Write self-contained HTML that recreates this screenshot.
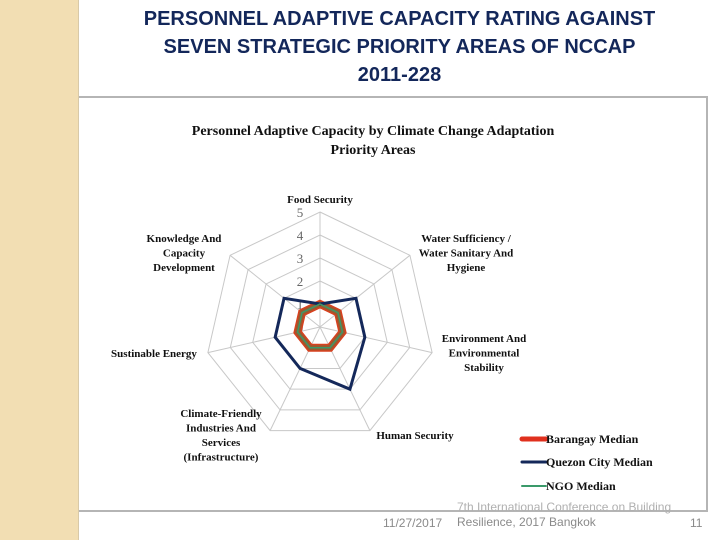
<!DOCTYPE html>
<html><head><meta charset="utf-8"><style>
body{margin:0;width:720px;height:540px;position:relative;background:#fff;font-family:"Liberation Sans",sans-serif;overflow:hidden}
#strip{position:absolute;left:0;top:0;width:78px;height:540px;background:#f2deb3;border-right:1px solid #d8c9a8}
#title{position:absolute;left:79px;top:5px;width:641px;text-align:center;color:#13275a;font-weight:bold;font-size:20px;line-height:28px}
#box{position:absolute;left:79px;top:96px;width:627px;height:412px;border-top:2px solid #b5b5b5;border-right:2px solid #b5b5b5;border-bottom:2px solid #b5b5b5;background:#fff}
svg text{font-family:"Liberation Serif",serif}
.ft{position:absolute;color:#8a8a8a;font-size:12px}
</style></head><body>
<div id="strip"></div>
<div id="title">PERSONNEL ADAPTIVE CAPACITY RATING AGAINST<br>SEVEN STRATEGIC PRIORITY AREAS OF NCCAP<br>2011-228</div>
<div id="box"></div>
<svg id="chart" width="720" height="540" style="position:absolute;left:0;top:0">
<text x="373" y="135" text-anchor="middle" font-size="14" font-weight="bold" fill="#111">Personnel Adaptive Capacity by Climate Change Adaptation</text>
<text x="373" y="154" text-anchor="middle" font-size="14" font-weight="bold" fill="#111">Priority Areas</text>
<g id="grid"></g><g id="series"></g><g id="labels"></g><g id="legend"></g>
</svg>
<div class="ft" style="left:383px;top:516px">11/27/2017</div>
<div class="ft" style="left:457px;top:500px;line-height:15px"><span style="color:#b0b0b0">7th International Conference on Building</span><br>Resilience, 2017 Bangkok</div>
<div class="ft" style="left:690px;top:516px">11</div>
<script>
const categories=["Food Security","Water Sufficiency / Water Sanitary And Hygiene","Environment And Environmental Stability","Human Security","Climate-Friendly Industries And Services (Infrastructure)","Sustinable Energy","Knowledge And Capacity Development"];
const barangay=[1,1,1,1,1,1,1];
const quezon=[1,2,2,3,2,2,2];
const ngo=[1,1,1,1,1,1,1];
const ticks=["0","1","2","3","4","5"];
const cx=320,cy=327,unit=23,maxV=5;
const NS="http://www.w3.org/2000/svg";
function pt(i,v){const a=i*2*Math.PI/categories.length;return [cx+Math.sin(a)*v*unit,cy-Math.cos(a)*v*unit];}
function mk(tag,attrs,parent){const e=document.createElementNS(NS,tag);for(const k in attrs)e.setAttribute(k,attrs[k]);parent.appendChild(e);return e;}
const grid=document.getElementById('grid');
for(let l=1;l<=maxV;l++){
 const p=mk('polygon',{points:categories.map((c,i)=>pt(i,l).join(',')).join(' '),fill:'none',stroke:'#c8c8c8','stroke-width':1},grid);
 
 
}
categories.forEach((c,i)=>{const [x,y]=pt(i,maxV);const ln=mk('line',{x1:cx,y1:cy,x2:x,y2:y,stroke:'#c8c8c8'},grid);
 
 });
ticks.forEach((t,k)=>{const tx=mk('text',{x:cx-20,y:cy-k*unit+5,'font-size':13,fill:'#666','text-anchor':'middle'},grid);tx.textContent=t;
 
 });
const ser=document.getElementById('series');
function drawSeries(vals,color,w,name){const p=mk('polygon',{points:vals.map((v,i)=>pt(i,v).join(',')).join(' '),fill:'none',stroke:color,'stroke-width':w,'stroke-linejoin':'miter'},ser);
 
 }
drawSeries(barangay,'#d9401e',8,'series-barangay');
drawSeries(barangay,'#9a5a30',5,'series-barangay-core');
drawSeries(quezon,'#14285a',3,'series-quezon-city');
drawSeries(ngo,'#3a9a6a',1.5,'series-ngo');
const labelPos=[[320,203,['Food Security'],'middle'],[466,242,['Water Sufficiency /','Water Sanitary And','Hygiene'],'middle'],[484,342,['Environment And','Environmental','Stability'],'middle'],[415,439,['Human Security'],'middle'],[221,417,['Climate-Friendly','Industries And','Services','(Infrastructure)'],'middle'],[154,357,['Sustinable Energy'],'middle'],[184,242,['Knowledge And','Capacity','Development'],'middle']];
const lab=document.getElementById('labels');
labelPos.forEach(([x,y,lines,anc])=>{const t=mk('text',{x:x,y:y,'font-size':11,'font-weight':'bold','text-anchor':anc,fill:'#111'},lab);
 
 
 lines.forEach((s,j)=>{const ts=mk('tspan',{x:x,dy:j?14.5:0},t);ts.textContent=s;});});
const leg=document.getElementById('legend');
[['Barangay Median','#e0301e',5,443],['Quezon City Median','#14285a',3,466],['NGO Median','#3a9a6a',2,490]].forEach(([n,c,w,y])=>{
 const g=mk('g',{},leg);
 
 
 mk('line',{x1:522,y1:y-4,x2:546,y2:y-4,stroke:c,'stroke-width':w,'stroke-linecap':'round'},g);
 const t=mk('text',{x:546,y:y,'font-size':12,'font-weight':'bold',fill:'#111'},g);t.textContent=n;});
</script>
</body></html>
